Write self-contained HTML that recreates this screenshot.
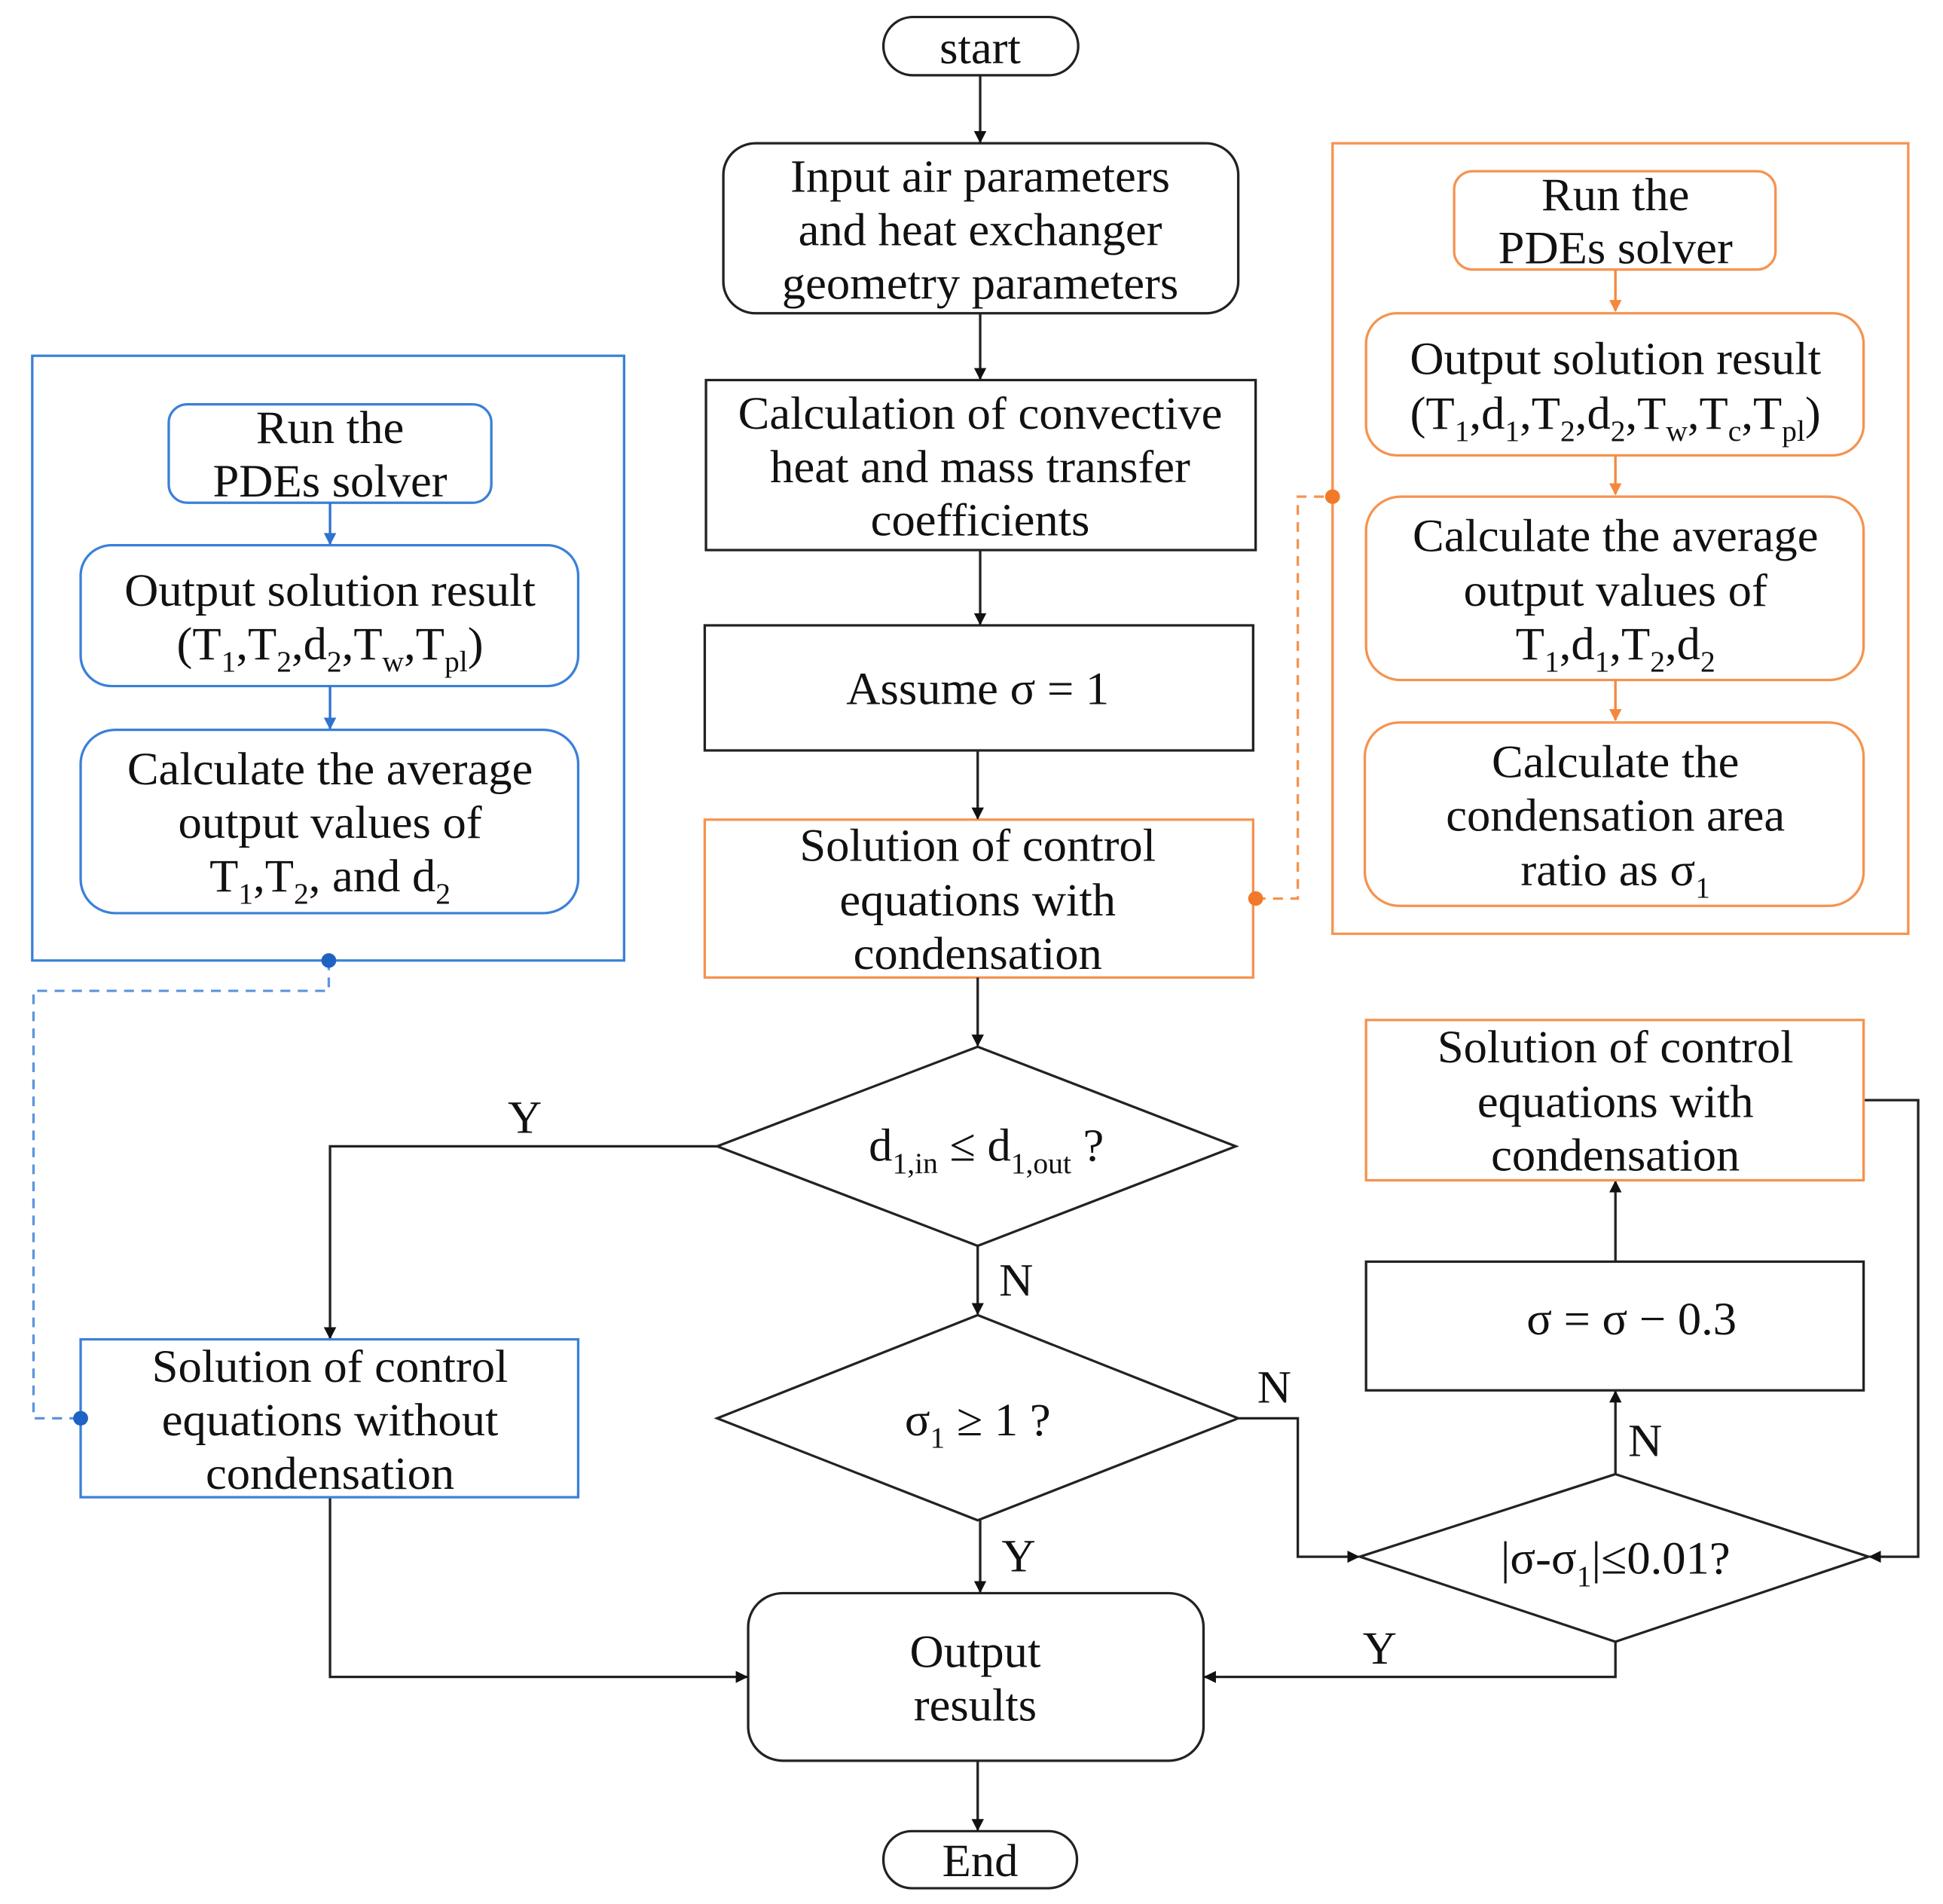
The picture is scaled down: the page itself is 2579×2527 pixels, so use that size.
<!DOCTYPE html>
<html><head><meta charset="utf-8"><style>
html,body{margin:0;padding:0;background:#fff;}
svg{display:block;}
text{font-family:"Liberation Serif",serif;font-size:38px;fill:#111;text-anchor:middle;}
.s{font-size:24px;}
</style></head><body>
<svg width="2579" height="2527" viewBox="0 0 1566 1568" preserveAspectRatio="none" xmlns="http://www.w3.org/2000/svg">
<defs>
<marker id="ak" markerWidth="10" markerHeight="10" refX="9" refY="5" orient="auto" markerUnits="userSpaceOnUse"><path d="M0,0 L10,5 L0,10 z" fill="#111"/></marker>
<marker id="ab" markerWidth="10" markerHeight="10" refX="9" refY="5" orient="auto" markerUnits="userSpaceOnUse"><path d="M0,0 L10,5 L0,10 z" fill="#2f72d0"/></marker>
<marker id="ao" markerWidth="10" markerHeight="10" refX="9" refY="5" orient="auto" markerUnits="userSpaceOnUse"><path d="M0,0 L10,5 L0,10 z" fill="#f5883c"/></marker>
</defs>
<g fill="none" stroke-width="2">
<rect x="712" y="14" width="157" height="48" rx="24" stroke="#222"/>
<rect x="583" y="118" width="415" height="140" rx="26" stroke="#222"/>
<rect x="569" y="313" width="443" height="140" stroke="#222"/>
<rect x="568" y="515" width="442" height="103" stroke="#222"/>
<rect x="568" y="675" width="442" height="130" stroke="#f5934f"/>
<polygon points="788,862 996,944 788,1026 578,944" stroke="#222"/>
<polygon points="788,1083 998,1168 788,1252 578,1168" stroke="#222"/>
<rect x="603" y="1312" width="367" height="138" rx="28" stroke="#222"/>
<rect x="712" y="1508" width="156" height="47" rx="23" stroke="#222"/>
<g stroke="#222" marker-end="url(#ak)">
<line x1="790" y1="62" x2="790" y2="117"/>
<line x1="790" y1="258" x2="790" y2="312"/>
<line x1="790" y1="453" x2="790" y2="514"/>
<line x1="788" y1="618" x2="788" y2="674"/>
<line x1="788" y1="805" x2="788" y2="861"/>
<line x1="788" y1="1026" x2="788" y2="1082"/>
<line x1="790" y1="1252" x2="790" y2="1311"/>
<line x1="788" y1="1450" x2="788" y2="1507"/>
<polyline points="578,944 266,944 266,1102"/>
<polyline points="266,1233 266,1381 602,1381"/>
<polyline points="998,1168 1046,1168 1046,1282 1095,1282"/>
<polyline points="1502,906 1546,906 1546,1282 1507,1282"/>
<polyline points="1302,1352 1302,1381 971,1381"/>
<line x1="1302" y1="1214" x2="1302" y2="1146"/>
<line x1="1302" y1="1039" x2="1302" y2="973"/>
</g>
<rect x="26" y="293" width="477" height="498" stroke="#3a80d8"/>
<rect x="136" y="333" width="260" height="81" rx="15" stroke="#3a80d8"/>
<rect x="65" y="449" width="401" height="116" rx="25" stroke="#3a80d8"/>
<rect x="65" y="601" width="401" height="151" rx="28" stroke="#3a80d8"/>
<rect x="65" y="1103" width="401" height="130" stroke="#3a80d8"/>
<g stroke="#2f72d0" marker-end="url(#ab)">
<line x1="266" y1="414" x2="266" y2="448"/>
<line x1="266" y1="565" x2="266" y2="600"/>
</g>
<polyline points="265,791 265,816 27,816 27,1168 65,1168" stroke="#5b95dc" stroke-dasharray="8,6"/>
<rect x="1074" y="118" width="464" height="651" stroke="#f5934f"/>
<rect x="1172" y="141" width="259" height="81" rx="15" stroke="#f5934f"/>
<rect x="1101" y="258" width="401" height="117" rx="25" stroke="#f5934f"/>
<rect x="1101" y="409" width="401" height="151" rx="28" stroke="#f5934f"/>
<rect x="1100" y="595" width="402" height="151" rx="28" stroke="#f5934f"/>
<rect x="1101" y="840" width="401" height="132" stroke="#f5934f"/>
<rect x="1101" y="1039" width="401" height="106" stroke="#222"/>
<polygon points="1302,1214 1506,1282 1302,1352 1096,1282" stroke="#222"/>
<g stroke="#f5883c" marker-end="url(#ao)">
<line x1="1302" y1="222" x2="1302" y2="256"/>
<line x1="1302" y1="375" x2="1302" y2="407"/>
<line x1="1302" y1="560" x2="1302" y2="593"/>
</g>
<polyline points="1012,740 1046,740 1046,409 1074,409" stroke="#f5934f" stroke-dasharray="8,6"/>
</g>
<circle cx="265" cy="791" r="6" fill="#1f62c4"/>
<circle cx="65" cy="1168" r="6" fill="#1f62c4"/>
<circle cx="1012" cy="740" r="6" fill="#f07a2a"/>
<circle cx="1074" cy="409" r="6" fill="#f07a2a"/>

<text x="790" y="52">start</text>
<text x="790" y="158">Input air parameters</text>
<text x="790" y="202">and heat exchanger</text>
<text x="790" y="246">geometry parameters</text>
<text x="790" y="353">Calculation of convective</text>
<text x="790" y="397">heat and mass transfer</text>
<text x="790" y="441">coefficients</text>
<text x="788" y="580">Assume  σ = 1</text>
<text x="788" y="709">Solution of control</text>
<text x="788" y="754">equations with</text>
<text x="788" y="798">condensation</text>
<text x="795" y="956">d<tspan class="s" dy="10">1,in</tspan><tspan dy="-10"> ≤ d</tspan><tspan class="s" dy="10">1,out</tspan><tspan dy="-10"> ?</tspan></text>
<text x="788" y="1182">σ<tspan class="s" dy="10">1</tspan><tspan dy="-10"> ≥ 1 ?</tspan></text>
<text x="786" y="1373">Output</text>
<text x="786" y="1417">results</text>
<text x="790" y="1545">End</text>
<text x="423" y="933">Y</text>
<text x="819" y="1067">N</text>
<text x="821" y="1294">Y</text>
<text x="1027" y="1155">N</text>
<text x="1326" y="1199">N</text>
<text x="1112" y="1370">Y</text>

<text x="266" y="365">Run the</text>
<text x="266" y="409">PDEs solver</text>
<text x="266" y="499">Output solution result</text>
<text x="266" y="543">(T<tspan class="s" dy="10">1</tspan><tspan dy="-10">,T</tspan><tspan class="s" dy="10">2</tspan><tspan dy="-10">,d</tspan><tspan class="s" dy="10">2</tspan><tspan dy="-10">,T</tspan><tspan class="s" dy="10">w</tspan><tspan dy="-10">,T</tspan><tspan class="s" dy="10">pl</tspan><tspan dy="-10">)</tspan></text>
<text x="266" y="646">Calculate the average</text>
<text x="266" y="690">output values of</text>
<text x="266" y="734">T<tspan class="s" dy="10">1</tspan><tspan dy="-10">,T</tspan><tspan class="s" dy="10">2</tspan><tspan dy="-10">, and d</tspan><tspan class="s" dy="10">2</tspan></text>
<text x="266" y="1138">Solution of control</text>
<text x="266" y="1182">equations without</text>
<text x="266" y="1226">condensation</text>

<text x="1302" y="173">Run the</text>
<text x="1302" y="217">PDEs solver</text>
<text x="1302" y="308">Output solution result</text>
<text x="1302" y="353">(T<tspan class="s" dy="10">1</tspan><tspan dy="-10">,d</tspan><tspan class="s" dy="10">1</tspan><tspan dy="-10">,T</tspan><tspan class="s" dy="10">2</tspan><tspan dy="-10">,d</tspan><tspan class="s" dy="10">2</tspan><tspan dy="-10">,T</tspan><tspan class="s" dy="10">w</tspan><tspan dy="-10">,T</tspan><tspan class="s" dy="10">c</tspan><tspan dy="-10">,T</tspan><tspan class="s" dy="10">pl</tspan><tspan dy="-10">)</tspan></text>
<text x="1302" y="454">Calculate the average</text>
<text x="1302" y="499">output values of</text>
<text x="1302" y="543">T<tspan class="s" dy="10">1</tspan><tspan dy="-10">,d</tspan><tspan class="s" dy="10">1</tspan><tspan dy="-10">,T</tspan><tspan class="s" dy="10">2</tspan><tspan dy="-10">,d</tspan><tspan class="s" dy="10">2</tspan></text>
<text x="1302" y="640">Calculate the</text>
<text x="1302" y="684">condensation area</text>
<text x="1302" y="729">ratio as σ<tspan class="s" dy="10">1</tspan></text>
<text x="1302" y="875">Solution of control</text>
<text x="1302" y="920">equations with</text>
<text x="1302" y="964">condensation</text>
<text x="1315" y="1099">σ = σ − 0.3</text>
<text x="1302" y="1296">|σ-σ<tspan class="s" dy="10">1</tspan><tspan dy="-10">|≤0.01?</tspan></text>
</svg>
</body></html>
